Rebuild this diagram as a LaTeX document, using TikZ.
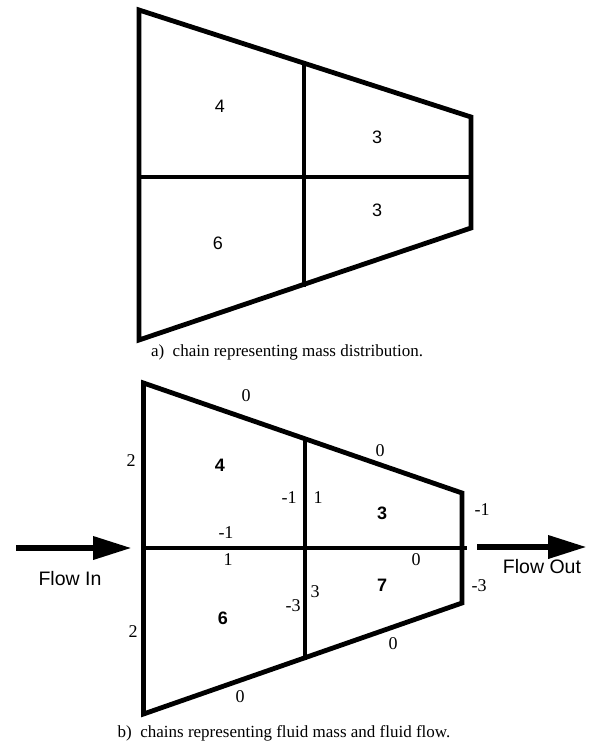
\documentclass[tikz,border=0pt]{standalone}
\usepackage{fontspec}
\setmainfont{Liberation Serif}
\newfontfamily\helv{Liberation Sans}
\usetikzlibrary{arrows.meta}
\begin{document}
\begin{tikzpicture}[x=1pt,y=-1pt,
  edge/.style={line width=4.8pt,line join=miter},
  inner/.style={line width=4.2pt},
  cellnum/.style={font=\helv\fontsize{18}{18}\selectfont,inner sep=0pt},
  cellbold/.style={font=\helv\bfseries\fontsize{18}{18}\selectfont,inner sep=0pt},
  elab/.style={font=\fontsize{18}{18}\selectfont,inner sep=0pt},
  caption/.style={font=\fontsize{17}{17}\selectfont,inner sep=0pt},
  flowlab/.style={font=\helv\fontsize{19.5}{19.5}\selectfont,inner sep=0pt},
  flowarrow/.style={line width=6.7pt,-{Triangle[length=39pt,width=22pt]}}]
\useasboundingbox (0,0) rectangle (590,749);
% ---------- top figure ----------
\coordinate (a1) at (139,10);
\coordinate (a2) at (304,63);
\coordinate (a3) at (471,117);
\coordinate (a4) at (471,228);
\coordinate (a5) at (304,284);
\coordinate (a6) at (139,340);
\coordinate (aml) at (139,177);
\coordinate (amr) at (471,177);
\coordinate (a5s) at (304,287);
\draw[edge] (a1) -- (a3) -- (a4) -- (a6) -- cycle;
\draw[inner] (aml) -- (amr);
\draw[inner] (a2) -- (a5s);
\node[cellnum] (ta) at (220,106) {4};
\node[cellnum] (tb) at (377,137) {3};
\node[cellnum] (tc) at (218,243) {6};
\node[cellnum] (td) at (377,210) {3};
\node[caption] (capa) at (287,352) {a)\ \ chain representing mass distribution.};
% ---------- bottom figure ----------
\coordinate (b1) at (143.5,383);
\coordinate (b2) at (305,440);
\coordinate (b3) at (462,493);
\coordinate (b4) at (462,603);
\coordinate (b5) at (305,657);
\coordinate (b6) at (143.5,714);
\coordinate (bml) at (143.5,548);
\coordinate (bmr) at (467,548);
\coordinate (b5s) at (305,660);
\draw[edge] (b1) -- (b3) -- (b4) -- (b6) -- cycle;
\draw[inner] (bml) -- (bmr);
\draw[inner] (b2) -- (b5s);
\node[cellbold] (ba) at (220,465) {4};
\node[cellbold] (bb) at (382,513) {3};
\node[cellbold] (bc) at (223,618) {6};
\node[cellbold] (bd) at (382,585) {7};
\node[elab] (l1) at (246,396) {0};
\node[elab] (l2) at (380,451) {0};
\node[elab] (l3) at (131,461) {2};
\node[elab] (l4) at (289,498) {-1};
\node[elab] (l5) at (318,498) {1};
\node[elab] (l6) at (482,510) {-1};
\node[elab] (l7) at (226,533) {-1};
\node[elab] (l8) at (228,560) {1};
\node[elab] (l9) at (416,560) {0};
\node[elab] (l10) at (315,592) {3};
\node[elab] (l11) at (293,606) {-3};
\node[elab] (l12) at (479,586) {-3};
\node[elab] (l13) at (393,644) {0};
\node[elab] (l14) at (133,632) {2};
\node[elab] (l15) at (240,697) {0};
% flow arrows
\coordinate (fi1) at (16,548);
\coordinate (fi2) at (132,548);
\coordinate (fo1) at (477,547);
\coordinate (fo2) at (587,547);
\draw[flowarrow] (fi1) -- (fi2);
\draw[flowarrow] (fo1) -- (fo2);
\node[flowlab] (fin) at (70,579) {Flow In};
\node[flowlab] (fout) at (542,567) {Flow Out};
\node[caption] (capb) at (284,733) {b)\ \ chains representing fluid mass and fluid flow.};
\end{tikzpicture}
\end{document}
